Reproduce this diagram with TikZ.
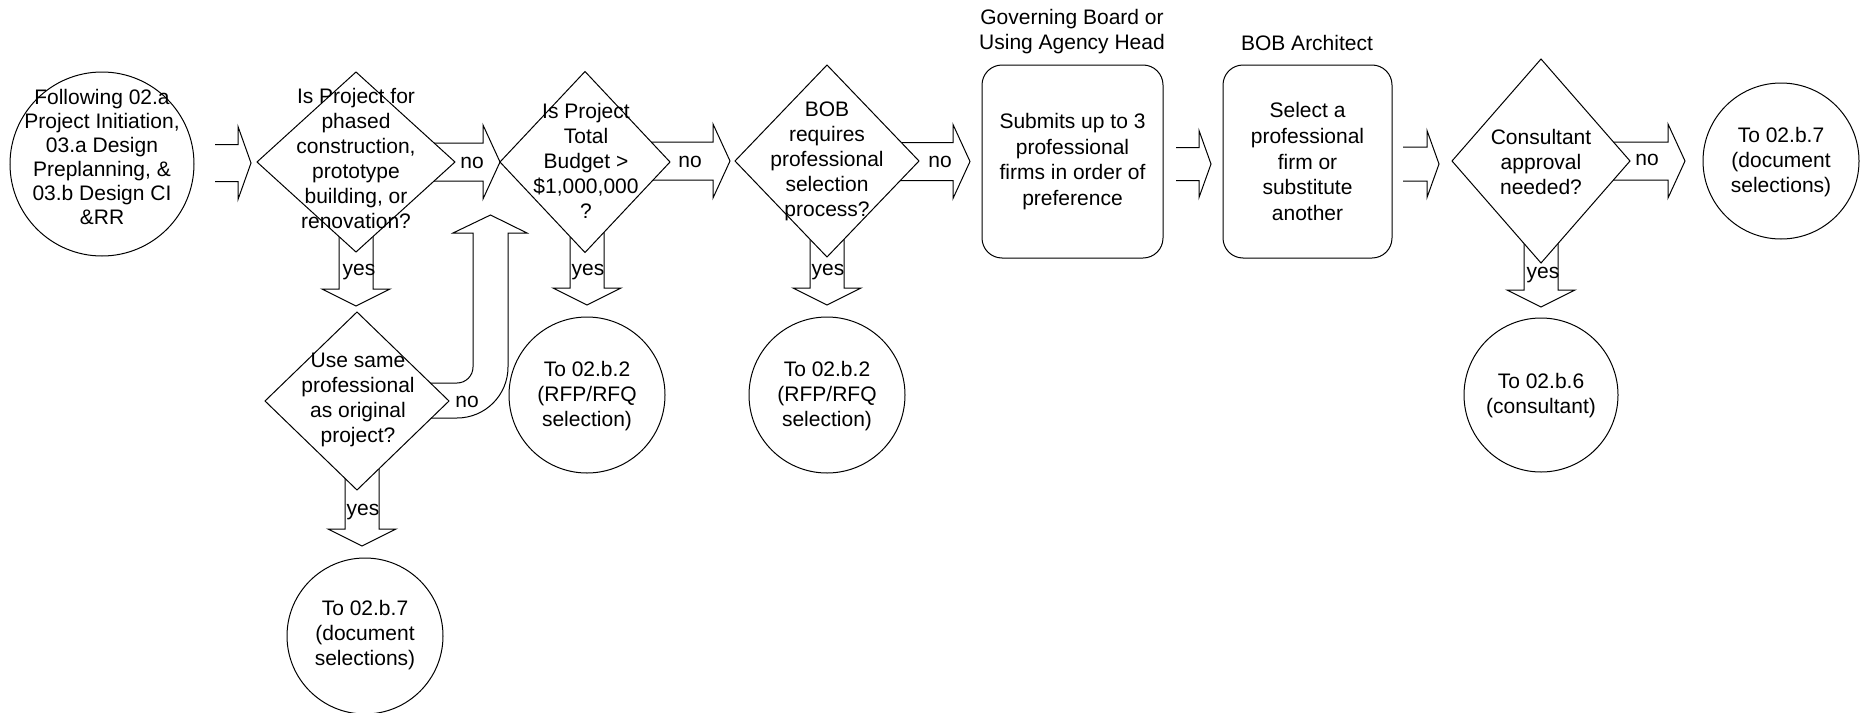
\documentclass[tikz,border=0pt]{standalone}
\usepackage{fontspec}
\setmainfont{Liberation Sans}
\usetikzlibrary{shapes.geometric,calc}
\pgfdeclarelayer{bg}
\pgfsetlayers{bg,main}
% horizontal open block arrow: #1 start (x only), #2 tip, #3 shaft half, #4 head half, #5 head length
\newcommand{\harrowx}[5]{\draw[blk] let \p1=(#1), \p2=(#2) in
  (\x1,\y2+#3pt) -- (\x2-#5pt,\y2+#3pt) -- (\x2-#5pt,\y2+#4pt) -- (\x2,\y2)
  -- (\x2-#5pt,\y2-#4pt) -- (\x2-#5pt,\y2-#3pt) -- (\x1,\y2-#3pt);}
\newcommand{\harrow}[2]{\harrowx{#1}{#2}{19}{37}{17}}
% downward open block arrow: #1 start (y only), #2 tip
\newcommand{\varrow}[2]{\draw[blk] let \p1=(#1), \p2=(#2) in
  (\x2-17pt,\y1) -- (\x2-17pt,\y2+17pt) -- (\x2-34pt,\y2+17pt) -- (\x2,\y2)
  -- (\x2+34pt,\y2+17pt) -- (\x2+17pt,\y2+17pt) -- (\x2+17pt,\y1);}
\begin{document}
\begin{tikzpicture}[x=1pt,y=-1pt,
  every node/.style={font=\fontsize{21}{25}\selectfont},
  shp/.style={draw=black, line width=1pt, fill=white, inner sep=0pt, outer sep=0pt},
  circ/.style={shp, circle},
  dia/.style={shp, diamond},
  rbox/.style={shp, rectangle, rounded corners=20pt},
  txt/.style={align=center, inner sep=0pt},
  btxt/.style={txt, font=\fontsize{21}{25.8}\selectfont},
  lab/.style={inner sep=0pt},
  blk/.style={draw=black, line width=1pt, line join=miter}
]
\useasboundingbox (0,0) rectangle (1868,712);

% shapes
\node[circ, minimum size=184] (c1) at (102,164) {};
\node[dia, minimum width=198, minimum height=180] (d1) at (356,162) {};
\node[dia, minimum width=170, minimum height=181] (d2) at (585,162) {};
\node[dia, minimum width=184, minimum height=192] (d3) at (827,161) {};
\node[rbox, minimum width=181, minimum height=193] (b1) at (1072.5,161.5) {};
\node[rbox, minimum width=169, minimum height=193] (b2) at (1307.5,161.5) {};
\node[dia, minimum width=178, minimum height=204] (d5) at (1541,161) {};
\node[circ, minimum size=156] (e1) at (1781,161) {};
\node[dia, minimum width=184, minimum height=178] (d4) at (357,401) {};
\node[circ, minimum size=156] (r1) at (587,395) {};
\node[circ, minimum size=156] (r2) at (827,395) {};
\node[circ, minimum size=154] (cn) at (1541,395) {};
\node[circ, minimum size=156] (e2) at (365,636) {};

\coordinate (a1s) at (215,163);
\coordinate (a5s) at (1176,164);
\coordinate (a6s) at (1403,164);
\coordinate (lt) at (490.5,215);

% connectors (behind shapes)
\begin{pgfonlayer}{bg}
\harrowx{a1s}{$(d1.west)+(-6,1)$}{18.5}{36.5}{13}
\harrow{d1}{d2.west}
\harrow{d2}{$(d3.west)+(-5,0)$}
\harrow{d3}{$(b1.west)+(-12,0)$}
\harrowx{a5s}{$(b2.west)+(-12,2.5)$}{16.5}{33.5}{12}
\harrowx{a6s}{$(d5.west)+(-13,3)$}{17}{33.5}{12}
\harrow{d5}{$(e1.west)+(-18,0)$}
\varrow{d1}{$(d1.south)+(0,54)$}
\varrow{d2}{$(r1.north)+(0,-12)$}
\varrow{d3}{$(r2.north)+(0,-12)$}
\varrow{d4}{$(e2.north)+(-3,-12)$}
\varrow{d5}{$(cn.north)+(0,-11)$}
\draw[blk] ($(d4.center)+(0,-18)$) -- (457,383) .. controls (465.8,383) and (473,375.8) .. (473,367)
  -- (473,233) -- (453,233) -- (lt) -- (527,233) -- (508,233) -- (508,367)
  .. controls (508,395.2) and (485.2,418) .. (457,418) -- ($(d4.center)+(0,17)$);
\end{pgfonlayer}

% texts
\node[txt, font=\fontsize{21}{24}\selectfont] (c1t) at (102,157) {Following 02.a\\Project Initiation,\\03.a Design\\Preplanning, \&\\03.b Design CI\\\&RR};
\node[txt] (d1t) at (356,158) {Is Project for\\phased\\construction,\\prototype\\building, or\\renovation?};
\node[txt] (d2t) at (586,161) {Is Project\\Total\\Budget >\\\$1,000,000\\?};
\node[txt] (d3t) at (827,161) {BOB\\requires\\professional\\selection\\process?};
\node[btxt] (b1t) at (1072.5,161.5) {Submits up to 3\\professional\\firms in order of\\preference};
\node[btxt] (b2t) at (1307.5,161.5) {Select a\\professional\\firm or\\substitute\\another};
\node[txt] (d5t) at (1541,162) {Consultant\\approval\\needed?};
\node[txt] (e1t) at (1781,162) {To 02.b.7\\(document\\selections)};
\node[txt] (d4t) at (358,400) {Use same\\professional\\as original\\project?};
\node[txt] (r1t) at (587,396) {To 02.b.2\\(RFP/RFQ\\selection)};
\node[txt] (r2t) at (827,396) {To 02.b.2\\(RFP/RFQ\\selection)};
\node[txt] (cnt) at (1541,396) {To 02.b.6\\(consultant)};
\node[txt] (e2t) at (365,635) {To 02.b.7\\(document\\selections)};
\node[txt] (h1) at (1072,32) {Governing Board or\\Using Agency Head};
\node[txt] (h2) at (1307,43) {BOB Architect};

% branch labels
\node[lab] (no1) at (472,163) {no};
\node[lab] (no2) at (690,162) {no};
\node[lab] (no3) at (940,162) {no};
\node[lab] (no4) at (1647,160) {no};
\node[lab] (no5) at (467,402) {no};
\node[lab] (ys1) at (359,272) {yes};
\node[lab] (ys2) at (588,272) {yes};
\node[lab] (ys3) at (828,272) {yes};
\node[lab] (ys4) at (1543,275) {yes};
\node[lab] (ys5) at (363,512) {yes};
\end{tikzpicture}
\end{document}
